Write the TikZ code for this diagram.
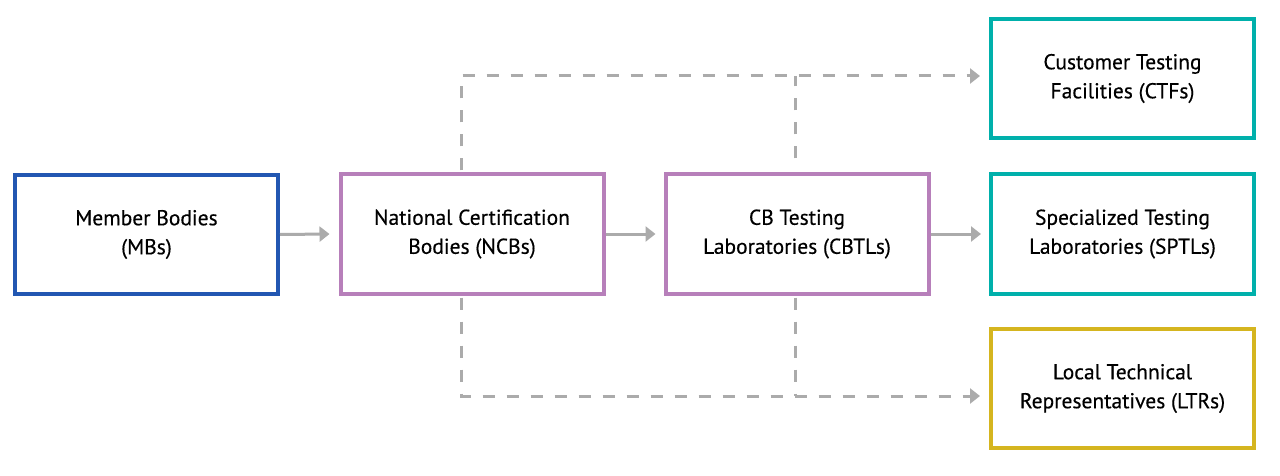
\documentclass[tikz,border=0pt]{standalone}
\usepackage{fontspec}
\setmainfont{PT Sans}[FakeBold=0.4]
\usetikzlibrary{arrows.meta,calc}
\definecolor{cblue}{HTML}{2257B2}
\definecolor{cpurple}{HTML}{B77FBA}
\definecolor{cteal}{HTML}{00B0AB}
\definecolor{cgold}{HTML}{D5B51F}
\definecolor{cgray}{HTML}{ABABAB}
\tikzset{
  box/.style={draw, line width=4pt, minimum width=263pt, minimum height=119pt, inner sep=0pt, align=center, font=\fontsize{21.5}{29}\selectfont, text=black},
  solidarrow/.style={draw=cgray, line width=3pt, -{Triangle[length=10pt,width=15pt]}},
  dasharrow/.style={draw=cgray, line width=3pt, dash pattern=on 12pt off 12pt, -{Triangle[length=10pt,width=15pt]}},
  dashline/.style={draw=cgray, line width=3pt, dash pattern=on 12pt off 12pt},
}
\begin{document}
\begin{tikzpicture}[x=1pt,y=-1pt]
\useasboundingbox (0,0) rectangle (1280,476);
\node[box, draw=cblue] (mb) at (146.5,234.5) {Member Bodies\\(MBs)};
\node[box, draw=cpurple] (ncb) at (472,234) {National Certification\\Bodies (NCBs)};
\node[box, draw=cpurple] (cbtl) at (797,234) {CB Testing\\Laboratories (CBTLs)};
\node[box, draw=cteal] (ctf) at (1122.5,78.5) {Customer Testing\\Facilities (CTFs)};
\node[box, draw=cteal] (sptl) at (1122.5,234) {Specialized Testing\\Laboratories (SPTLs)};
\node[box, draw=cgold] (ltr) at (1122.5,388.5) {Local Technical\\Representatives (LTRs)};
\coordinate (ttop) at (980,76);
\coordinate (tbot) at (980,396);
\draw[solidarrow] (mb.east) -- ($(ncb.west)+(-9,0)$);
\draw[solidarrow] (ncb.east) -- ($(cbtl.west)+(-8,0)$);
\draw[solidarrow] (cbtl.east) -- ($(sptl.west)+(-8,0)$);
\draw[dasharrow] ($(ncb.north)+(-11,-2)$) |- (ttop);
\draw[dasharrow] ($(ncb.south)+(-11,2)$) |- (tbot);
\draw[dashline] ($(cbtl.north)+(-2,-14)$) -- ($(cbtl.north |- ttop)+(-2,0)$);
\draw[dashline] ($(cbtl.south)+(-2,2)$) -- ($(cbtl.south |- tbot)+(-2,0)$);
\end{tikzpicture}
\end{document}
